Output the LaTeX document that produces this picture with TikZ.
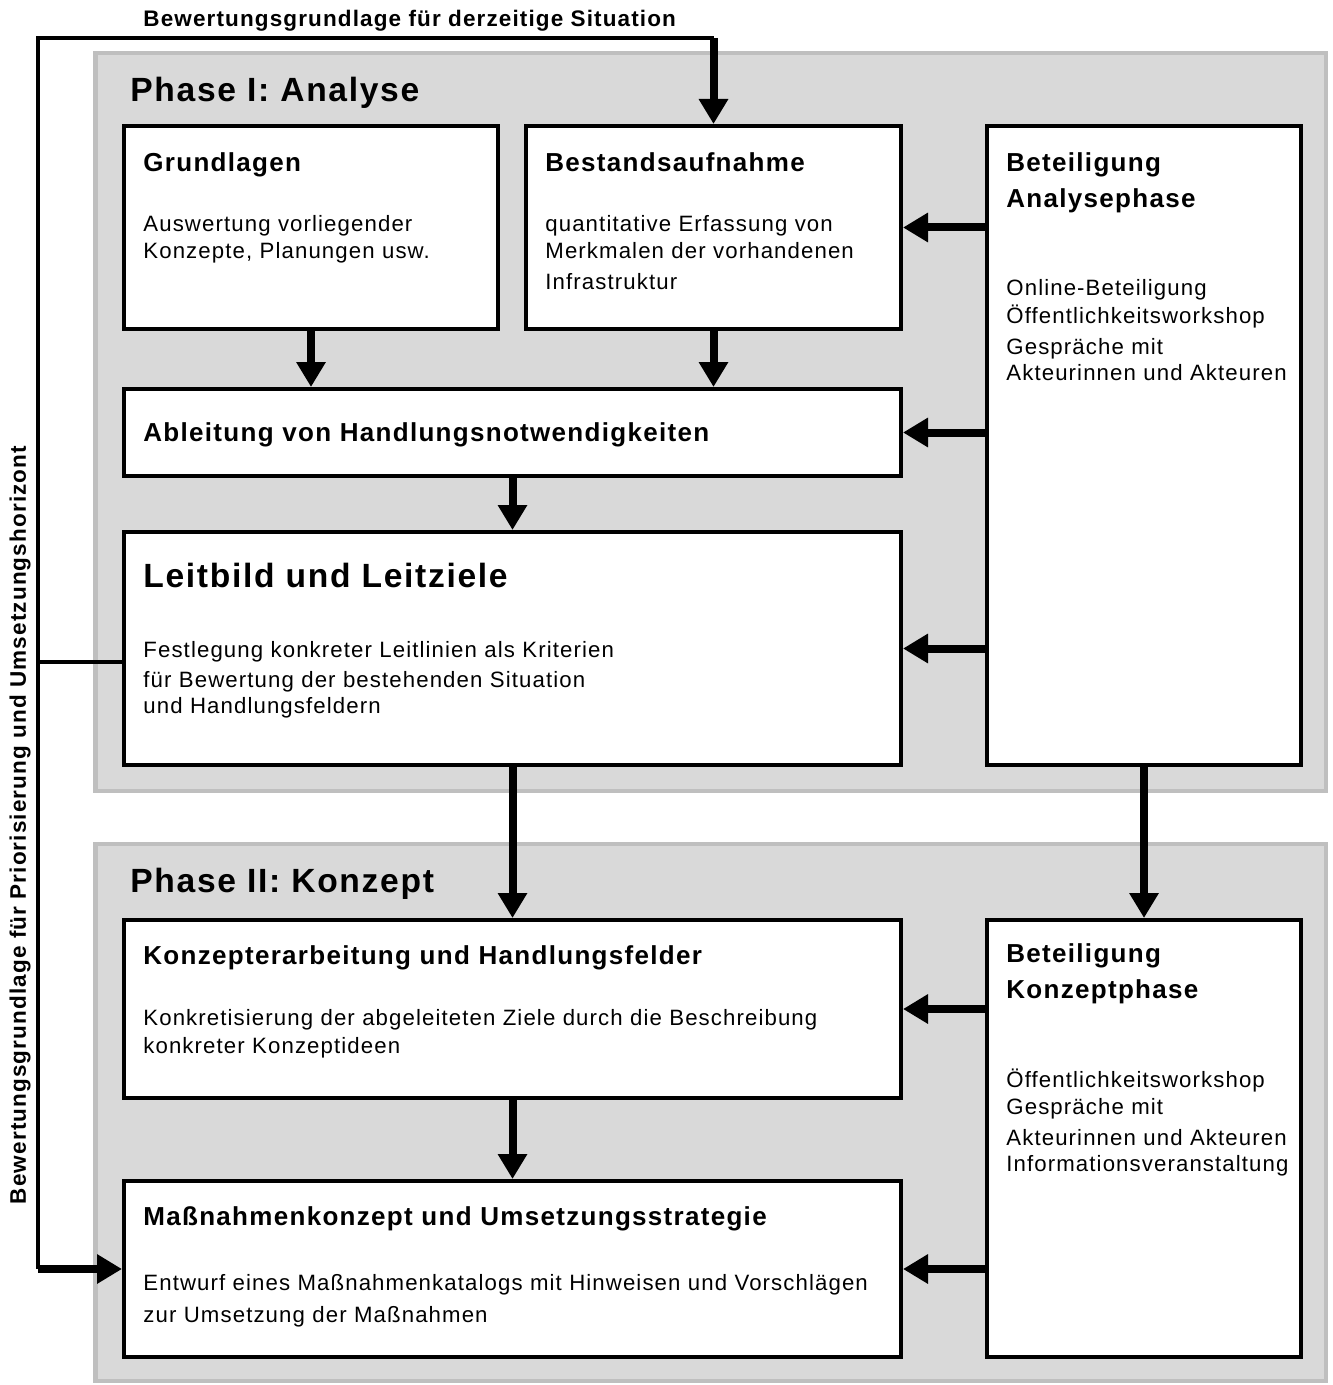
\documentclass[tikz,border=0pt]{standalone}
\usepackage{fontspec}
\setmainfont{Liberation Sans}[LetterSpace=5]
\usepackage{tikz}
\usetikzlibrary{arrows.meta,fit}
\usepackage{xcolor}
\definecolor{phfill}{HTML}{D9D9D9}
\definecolor{phedge}{HTML}{BFBFBF}
\tikzset{
  phase/.style    = {draw=phedge, line width=2.2pt, fill=phfill, inner sep=0pt},
  box/.style      = {draw, line width=2pt, fill=white, inner sep=0pt},
  phasettl/.style = {anchor=base west, inner sep=0pt,
                     font=\fontsize{16.8pt}{19pt}\selectfont\bfseries},
  ttl/.style      = {anchor=base west, inner sep=0pt, align=left, text width=14cm,
                     font=\fontsize{13pt}{18pt}\selectfont\bfseries},
  body/.style     = {anchor=base west, inner sep=0pt, align=left, text width=14cm,
                     font=\fontsize{11.1pt}{13.5pt}\selectfont},
  lbl/.style      = {inner sep=0pt, font=\fontsize{11.25pt}{13pt}\selectfont\bfseries},
  flow/.style     = {-{Triangle[length=12.5pt,width=14pt]}, line width=4pt},
  link/.style     = {line width=2pt},
}
\begin{document}
\begin{tikzpicture}[x=0.5pt,y=-0.5pt]
\useasboundingbox (0,0) rectangle (1332,1385);
\node[phase, fit={(95.5,53) (1326,791)}] (ph1) {};
\node[phase, fit={(95.5,844) (1326,1381)}] (ph2) {};
\node[phasettl] (ph1T) at (130,102) {Phase I: Analyse};
\node[phasettl] (ph2T) at (130,892) {Phase II: Konzept};

\node[box, fit={(124,126) (498,329)}] (gr) {};
\node[box, fit={(526,126) (901,329)}] (bes) {};
\node[box, fit={(987,126) (1301,765)}] (betA) {};
\node[box, fit={(124,389) (901,476)}] (abl) {};
\node[box, fit={(124,532) (901,765)}] (leit) {};
\node[box, fit={(124,920) (901,1098)}] (konz) {};
\node[box, fit={(124,1181) (901,1357)}] (mass) {};
\node[box, fit={(987,920) (1301,1357)}] (betK) {};

\node[ttl] (grT) at (143,172) {Grundlagen};
\node[body] (grB) at (143,232) {Auswertung vorliegender\\Konzepte, Planungen usw.};
\node[ttl] (besT) at (545,172) {Bestandsaufnahme};
\node[body] (besB) at (545,232) {quantitative Erfassung von\\Merkmalen der vorhandenen\\[2pt]Infrastruktur};
\node[ttl] (betAT) at (1006,172) {Beteiligung\\Analysephase};
\node[body] (betAB) at (1006,296) {Online-Beteiligung\\[0.5pt]Öffentlichkeitsworkshop\\[2pt]Gespräche mit\\[-0.5pt]Akteurinnen und Akteuren};
\node[ttl] (ablT) at (143,441) {Ableitung von Handlungsnotwendigkeiten};
\node[phasettl] (leitT) at (143,587) {Leitbild und Leitziele};
\node[body] (leitB) at (143,657) {Festlegung konkreter Leitlinien als Kriterien\\[1.5pt]für Bewertung der bestehenden Situation\\[-0.5pt]und Handlungsfeldern};
\node[ttl] (konzT) at (143,964) {Konzepterarbeitung und Handlungsfelder};
\node[body] (konzB) at (143,1025) {Konkretisierung der abgeleiteten Ziele durch die Beschreibung\\[0.5pt]konkreter Konzeptideen};
\node[ttl] (massT) at (143,1225) {Maßnahmenkonzept und Umsetzungsstrategie};
\node[body] (massB) at (143,1290) {Entwurf eines Maßnahmenkatalogs mit Hinweisen und Vorschlägen\\[2.5pt]zur Umsetzung der Maßnahmen};
\node[ttl] (betKT) at (1006,962) {Beteiligung\\Konzeptphase};
\node[body] (betKB) at (1006,1087) {Öffentlichkeitsworkshop\\Gespräche mit\\[2pt]Akteurinnen und Akteuren\\[-0.5pt]Informationsveranstaltung};

\node[lbl, anchor=base west] (lblT) at (143,27) {Bewertungsgrundlage für derzeitige Situation};
\node[lbl, rotate=90] (lblV) at (20,825) {Bewertungsgrundlage für Priorisierung und Umsetzungshorizont};

\draw[flow] (gr.south) -- (gr.south |- abl.north);
\draw[flow] (bes.south) -- (bes.south |- abl.north);
\draw[flow] (abl.south) -- (leit.north);
\draw[flow] (leit.south) -- (konz.north);
\draw[flow] (konz.south) -- (mass.north);
\draw[flow] (betA.south) -- (betA.south |- betK.north);
\draw[flow] (betA.west |- bes.east) -- (bes.east);
\draw[flow] (betA.west |- abl.east) -- (abl.east);
\draw[flow] (betA.west |- leit.east) -- (leit.east);
\draw[flow] (betK.west |- konz.east) -- (konz.east);
\draw[flow] (betK.west |- mass.east) -- (mass.east);

\coordinate (fbL) at (38,662);
\coordinate (fbT) at (38,38);
\draw[link] (leit.west |- fbL) -- (fbL) -- (fbT) -- (fbT -| bes.north);
\draw[flow] (fbT -| bes.north) -- (bes.north);
\draw[link] (fbL) -- (fbL |- mass.west);
\draw[flow] (fbL |- mass.west) -- (mass.west);
\end{tikzpicture}
\end{document}
